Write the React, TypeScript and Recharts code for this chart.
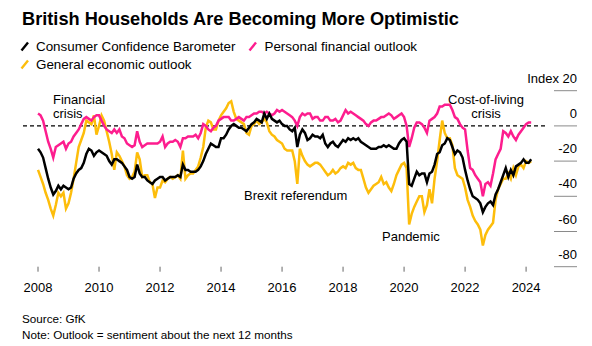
import { LineChart, Line, XAxis, YAxis, ReferenceLine } from 'recharts'

const START_YEAR = 2008

// GfK, monthly from Jan 2008
const barometer = [
  -13, -15, -18, -24, -30, -35, -39, -37, -34, -36, -34, -35,
  -36, -35, -30, -27, -25, -24, -21, -16, -13, -14, -17, -15,
  -14, -15, -16, -17, -20, -22, -19, -19, -20, -21, -23, -25,
  -29, -30, -29, -22, -27, -29, -29, -31, -32, -33, -31, -30,
  -29, -29, -31, -30, -29, -29, -29, -28, -29, -22, -25, -25,
  -26, -26, -26, -25, -23, -20, -16, -13, -10, -11, -12, -12,
  -7, -7, -5, -2, 0, 1, 0, -1, -1, -2, -3, -1,
  1, 2, 4, 3, 2, 7, 4, 7, 4, 3, 2, 3,
  1, 0, 0, -2, -3, -1, -12, -5, -2, -4, -8, -7,
  -5, -6, -6, -7, -5, -10, -12, -10, -9, -11, -12, -10,
  -8, -9, -7, -8, -7, -8, -7, -9, -10, -11, -12, -13,
  -13, -13, -12, -12, -11, -12, -11, -12, -13, -13, -10, -8,
  -7, -9, -33, -34, -30, -26, -28, -27, -27, -32, -27, -26,
  -22, -16, -15, -11, -10, -7, -8, -12, -16, -14, -15, -18,
  -25, -31, -36, -40, -41, -42, -44, -49, -46, -44, -43, -45,
  -39, -36, -32, -28, -24, -29, -25, -28, -23, -22, -21, -19,
  -21, -21, -19,
]

const personalOutlook = [
  7, 6, 3, -3, -9, -13, -18, -12, -11, -10, -9, -13,
  -10, -9, -6, -4, -2, 1, 4, 5, 4, 3, 5, 6,
  6, 3, 0, -2, -3, -4, -2, -4, -2, -6, -7, -10,
  -11, -12, -11, -3, -9, -12, -11, -10, -10, -10, -10, -10,
  -9, -6, -12, -10, -9, -9, -8, -9, -12, -7, -7, -6,
  -6, -6, -5, -7, -4, 1, 0, -2, -3, -1, 0, 3,
  4, 5, 5, 5, 3, 3, 4, 5, 4, 3, 5, 5,
  6, 7, 7, 8, 8, 7, 8, 7, 6, 7, 9, 8,
  9, 8, 7, 6, 5, 3, 0, 5, 7, 6, 7, 7,
  4, 5, 5, 3, 3, 5, 5, 3, 3, 4, 2, 3,
  6, 9, 7, 8, 7, 6, 5, 4, 3, 1, 0, 2,
  3, 3, 4, 5, 5, 6, 7, 6, 4, 5, 6, 7,
  5, 0, -12, -7, -1, 2, 2, 1, -1, -4, 3, 4,
  5, 7, 11, 11, 12, 12, 12, 9, 5, 4, 1, -1,
  -2, -14, -24, -25, -28, -30, -32, -40, -33, -32, -34, -27,
  -19, -16, -13, -3, -4, -6, -3, -6, -8, -5, -3, -1,
  1, 2, 2,
]

const economicOutlook = [
  -25, -29, -33, -38, -42, -47, -51, -45, -38, -40, -38, -47,
  -44, -38, -30, -21, -12, -8, -4, 3, 2, 1, 6, -5,
  0, 6, 3, -3, -9, -16, -25, -15, -17, -20, -23, -28,
  -30, -29, -26, -15, -19, -29, -28, -28, -32, -33, -41, -35,
  -35, -31, -32, -30, -29, -30, -29, -28, -30, -14, -30, -28,
  -27, -27, -25, -23, -18, -12, -1, 3, 2, -2, -2, 3,
  6, 8, 10, 13, 14, 8, 4, 3, 2, 1, -4, -5,
  0, 1, 3, 1, 2, 4, 2, -3, -5, -6, -8, -9,
  -10, -13, -14, -14, -14, -20, -33, -13, -17, -20, -22, -23,
  -22, -21, -21, -22, -24, -26, -28, -27, -25, -27, -26, -24,
  -23, -24, -21, -22, -21, -24, -25, -25, -30, -35, -38, -36,
  -34, -33, -32, -29, -33, -32, -35, -37, -33, -28, -25, -22,
  -21, -24, -56, -50, -46, -43, -40, -40, -49, -45, -36, -44,
  -30, -20, -8, 3, -4, -7, -7, -11, -24, -28, -29, -30,
  -35, -42, -46, -51, -54, -56, -59, -68, -62, -59, -57, -55,
  -42, -36, -33, -30, -30, -27, -30, -24, -28, -23, -22, -24,
  -20, -21, -20,
]

const xTicks = [2008, 2010, 2012, 2014, 2016, 2018, 2020, 2022, 2024]
const yTicks = [20, 0, -20, -40, -60, -80]

const BLACK = '#000000'
const PINK = '#fd1d8e'
const YELLOW = '#fdbd0b'
const FONT = '"Liberation Sans", Arial, sans-serif'

const data = barometer.map((v, i) => ({
  t: START_YEAR + i / 12,
  ccb: v,
  pfo: personalOutlook[i],
  geo: economicOutlook[i],
}))

const YTick = ({ y, payload }: any) => (
  <g>
    <line x1={554} x2={577} y1={y} y2={y} stroke="#8a8a8a" strokeWidth={1} />
    <text x={577} y={y - 8} textAnchor="end" fontSize={13} fill="#000" fontFamily={FONT}>
      {payload.value === 20 ? 'Index 20' : payload.value}
    </text>
  </g>
)

const Slash = ({ color }: { color: string }) => (
  <svg width={10} height={11} style={{ marginRight: 6, verticalAlign: -1 }}>
    <line x1={1.5} y1={9.5} x2={8} y2={1.5} stroke={color} strokeWidth={2.4} />
  </svg>
)

const note: React.CSSProperties = { position: 'absolute', fontSize: 13, lineHeight: '14px', color: '#000' }

export default function App() {
  return (
    <div style={{ position: 'absolute', left: 0, top: 0, width: 592, height: 346, background: '#fff', fontFamily: FONT, overflow: 'hidden' }}>
      <div style={{ position: 'absolute', left: 22, top: 8, fontSize: 18.2, fontWeight: 700, lineHeight: '22px', color: '#000' }}>
        British Households Are Becoming More Optimistic
      </div>
      <div style={{ position: 'absolute', left: 20, top: 38, fontSize: 13.4, lineHeight: '18px', color: '#000' }}>
        <div>
          <Slash color={BLACK} />Consumer Confidence Barometer
          <span style={{ marginLeft: 13 }}><Slash color={PINK} />Personal financial outlook</span>
        </div>
        <div><Slash color={YELLOW} />General economic outlook</div>
      </div>

      <LineChart width={592} height={346} data={data} margin={{ top: 90.7, right: 0, bottom: 49.3, left: 22 }}
        style={{ position: 'absolute', left: 0, top: 0 }}>
        <XAxis dataKey="t" type="number" domain={[2007.475, 2024.62]} ticks={xTicks} height={30}
          axisLine={false} tickLine={{ stroke: '#666' }} tickSize={5} tickMargin={11}
          tick={{ fill: '#000', fontSize: 13, fontFamily: FONT }} allowDataOverflow />
        <YAxis orientation="right" type="number" domain={[-80, 20]} ticks={yTicks} width={47}
          axisLine={false} tickLine={false} tick={<YTick />} interval={0} />
        <ReferenceLine y={0} stroke="#000" strokeDasharray="4 3" strokeWidth={1.2} />
        <Line dataKey="geo" stroke={YELLOW} strokeWidth={2.5} dot={false} type="linear" isAnimationActive={false} />
        <Line dataKey="pfo" stroke={PINK} strokeWidth={2.5} dot={false} type="linear" isAnimationActive={false} />
        <Line dataKey="ccb" stroke={BLACK} strokeWidth={2.5} dot={false} type="linear" isAnimationActive={false} />
      </LineChart>

      <div style={{ ...note, left: 53, top: 93 }}>Financial<br />crisis</div>
      <div style={{ ...note, left: 436, top: 93, width: 100, textAlign: 'center' }}>Cost-of-living<br />crisis</div>
      <div style={{ ...note, left: 244, top: 189 }}>Brexit referendum</div>
      <div style={{ ...note, left: 382, top: 230 }}>Pandemic</div>

      <div style={{ position: 'absolute', left: 22, top: 311, fontSize: 11.7, lineHeight: '16px', color: '#000' }}>
        Source: GfK<br />Note: Outlook = sentiment about the next 12 months
      </div>
    </div>
  )
}
